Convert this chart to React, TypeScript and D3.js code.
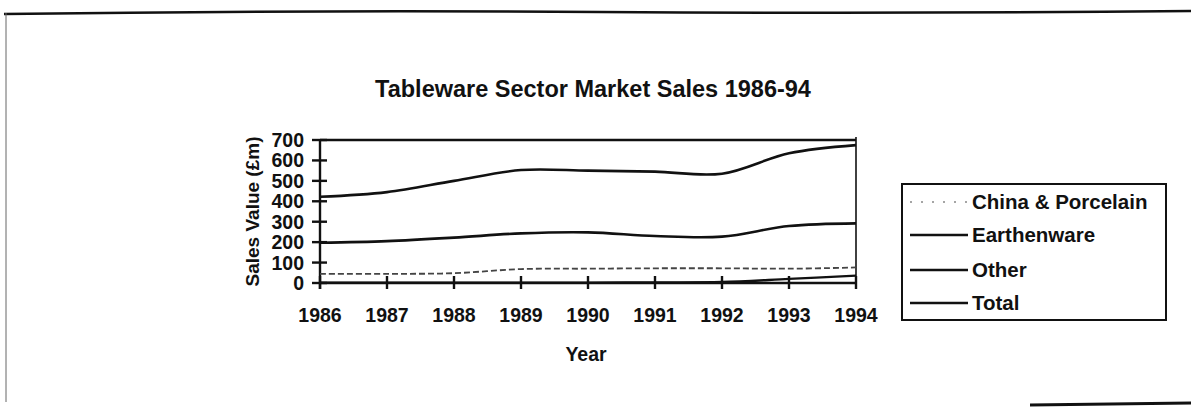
import React from "react";
import * as d3 from "d3";

const years = [1986, 1987, 1988, 1989, 1990, 1991, 1992, 1993, 1994];
const yTicks = [0, 100, 200, 300, 400, 500, 600, 700];
const chinaPorcelain = [45, 45, 48, 68, 70, 72, 72, 70, 76];
const earthenware = [197, 205, 222, 243, 248, 230, 227, 279, 292];
const other = [2, 2, 2, 2, 2, 3, 5, 20, 36];
const total = [422, 445, 500, 553, 550, 545, 535, 635, 675];
const legendLabels = ["China & Porcelain", "Earthenware", "Other", "Total"];

const FONT = "'Liberation Sans', Arial, Helvetica, sans-serif";

export default function App() {
  const W = 1191, H = 414;
  const x = d3.scaleLinear().domain([1986, 1994]).range([320, 856]);
  const y = d3.scaleLinear().domain([0, 700]).range([283, 140]);
  const line = d3
    .line<number>()
    .x((_, i) => x(years[i]))
    .y((d) => y(d))
    .curve(d3.curveCatmullRom.alpha(0.5));

  const series = [
    { name: legendLabels[0], data: chinaPorcelain, dash: "6,3", color: "#444", w: 1.8 },
    { name: legendLabels[1], data: earthenware, dash: "", color: "#111", w: 2.6 },
    { name: legendLabels[2], data: other, dash: "", color: "#111", w: 2.4 },
    { name: legendLabels[3], data: total, dash: "", color: "#111", w: 2.6 },
  ];

  const legendY = [202, 235, 270, 303];

  return (
    <svg
      width={W}
      height={H}
      style={{ position: "fixed", left: 0, top: 0, background: "#fff" }}
      fontFamily={FONT}
    >
      {/* page frame */}
      <path d="M4,14 Q300,10 600,12 T1191,11" fill="none" stroke="#111" strokeWidth={2.5} />
      <line x1={6} y1={13} x2={6} y2={402} stroke="#666" strokeWidth={1} />
      <line x1={1030} y1={405} x2={1191} y2={403} stroke="#111" strokeWidth={3} />

      {/* title */}
      <text x={593} y={97} textAnchor="middle" fontSize={23.5} fontWeight="bold" fill="#111">
        Tableware Sector Market Sales 1986-94
      </text>

      {/* plot frame: top and right */}
      <line x1={x(1986)} y1={y(700)} x2={x(1994)} y2={y(700)} stroke="#111" strokeWidth={2.4} />
      <line x1={x(1994)} y1={y(700) - 3} x2={x(1994)} y2={y(0) + 3} stroke="#111" strokeWidth={1.6} />

      {/* axes */}
      <line x1={x(1986)} y1={y(700)} x2={x(1986)} y2={y(0) + 6} stroke="#111" strokeWidth={2.4} />
      <line x1={x(1986)} y1={y(0)} x2={x(1994)} y2={y(0)} stroke="#111" strokeWidth={2.6} />
      {yTicks.map((t) => (
        <g key={"y" + t}>
          <line x1={x(1986) - 8} x2={x(1986) + 7} y1={y(t)} y2={y(t)} stroke="#111" strokeWidth={2.4} />
          <text x={304} y={y(t)} dy="0.36em" textAnchor="end" fontSize={19.5} fontWeight="bold" fill="#111">
            {t}
          </text>
        </g>
      ))}
      {years.map((yr) => (
        <g key={"x" + yr}>
          <line x1={x(yr)} x2={x(yr)} y1={y(0) - 7} y2={y(0) + 6} stroke="#111" strokeWidth={2.4} />
          <text x={x(yr)} y={y(0) + 39} textAnchor="middle" fontSize={19.5} fontWeight="bold" fill="#111">
            {yr}
          </text>
        </g>
      ))}

      {/* axis titles */}
      <text
        transform={`translate(259,${(y(0) + y(700)) / 2}) rotate(-90)`}
        textAnchor="middle"
        fontSize={19}
        fontWeight="bold"
        fill="#111"
      >
        Sales Value (£m)
      </text>
      <text x={586} y={361} textAnchor="middle" fontSize={19.5} fontWeight="bold" fill="#111">
        Year
      </text>

      {/* series */}
      {series.map((s) => (
        <path
          key={s.name}
          d={line(s.data) || ""}
          fill="none"
          stroke={s.color}
          strokeWidth={s.w}
          strokeDasharray={s.dash}
        />
      ))}

      {/* legend */}
      <rect x={902} y={184} width={264} height={136} fill="none" stroke="#111" strokeWidth={2} />
      {series.map((s, i) => (
        <g key={"lg" + i}>
          <line
            x1={910}
            x2={968}
            y1={legendY[i]}
            y2={legendY[i]}
            stroke={i === 0 ? "#888" : "#111"}
            strokeWidth={i === 0 ? 1.4 : 2.6}
            strokeDasharray={i === 0 ? "2,9" : ""}
          />
          <text x={972} y={legendY[i]} dy="0.36em" fontSize={20.5} fontWeight="bold" fill="#111">
            {s.name}
          </text>
        </g>
      ))}
    </svg>
  );
}
